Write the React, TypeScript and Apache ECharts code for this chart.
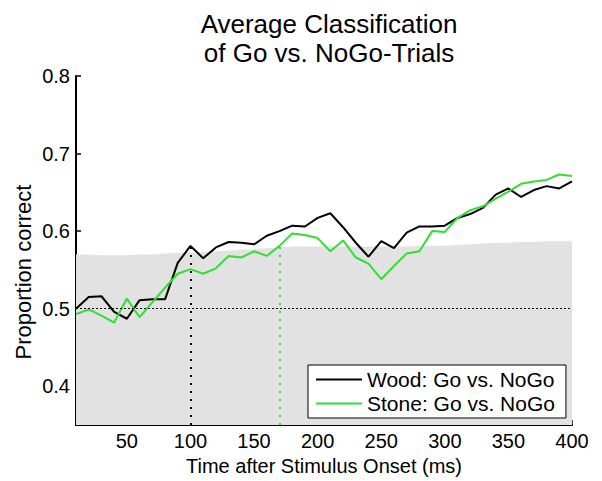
import React, { useEffect, useRef } from "react";
import * as echarts from "echarts";

// Time after stimulus onset (ms)
const times = [
  10, 20, 30, 40, 50, 60, 70, 80, 90, 100,
  110, 120, 130, 140, 150, 160, 170, 180, 190, 200,
  210, 220, 230, 240, 250, 260, 270, 280, 290, 300,
  310, 320, 330, 340, 350, 360, 370, 380, 390, 400,
];

// Proportion correct, Wood: Go vs. NoGo
const wood = [
  0.500, 0.515, 0.516, 0.496, 0.487, 0.511, 0.512, 0.512, 0.559, 0.581,
  0.565, 0.579, 0.586, 0.585, 0.583, 0.594, 0.600, 0.607, 0.606, 0.617,
  0.623, 0.605, 0.585, 0.567, 0.587, 0.578, 0.598, 0.606, 0.606, 0.607,
  0.617, 0.622, 0.630, 0.647, 0.655, 0.644, 0.653, 0.658, 0.655, 0.664,
];

// Proportion correct, Stone: Go vs. NoGo
const stone = [
  0.493, 0.499, 0.491, 0.482, 0.513, 0.489, 0.508, 0.527, 0.545, 0.551,
  0.545, 0.552, 0.568, 0.566, 0.574, 0.568, 0.581, 0.597, 0.595, 0.591,
  0.574, 0.588, 0.566, 0.558, 0.538, 0.555, 0.571, 0.574, 0.600, 0.599,
  0.617, 0.627, 0.632, 0.642, 0.651, 0.661, 0.664, 0.666, 0.673, 0.671,
];

// Upper bound of the chance-level band
const chanceBand = [
  0.570, 0.570, 0.569, 0.569, 0.569, 0.570, 0.570, 0.571, 0.572, 0.572,
  0.573, 0.574, 0.575, 0.576, 0.577, 0.578, 0.579, 0.580, 0.580, 0.580,
  0.580, 0.580, 0.580, 0.580, 0.580, 0.580, 0.580, 0.581, 0.581, 0.581,
  0.582, 0.583, 0.584, 0.585, 0.585, 0.586, 0.586, 0.587, 0.587, 0.587,
];

const xTicks = [50, 100, 150, 200, 250, 300, 350, 400];
const yTicks = [0.4, 0.5, 0.6, 0.7, 0.8];

const woodOnset = 100;
const stoneOnset = 170;

const FONT = "'Liberation Sans', Arial, Helvetica, sans-serif";
const GREEN = "#33de33";
const LEGEND_ICON = "path://M0,0 L46,0 L46,2 L0,2 Z";

export default function App() {
  const ref = useRef<HTMLDivElement>(null);

  useEffect(() => {
    if (!ref.current) return;
    const chart = echarts.init(ref.current, undefined, { renderer: "svg" });
    const yMin = 0.35;
    const pair = (ys: number[]) => times.map((t, i) => [t, ys[i]]);
    const woodAt = wood[times.indexOf(woodOnset)];
    const stoneAt = stone[times.indexOf(stoneOnset)];

    chart.setOption({
      animation: false,
      backgroundColor: "#ffffff",
      textStyle: { fontFamily: FONT },
      title: {
        text: "Average Classification\nof Go vs. NoGo-Trials",
        left: 324,
        textAlign: "center",
        top: 4,
        textStyle: {
          fontFamily: FONT,
          fontSize: 26,
          lineHeight: 29,
          fontWeight: "normal",
          color: "#000",
        },
      },
      grid: { left: 76, right: 30, top: 76, bottom: 53, containLabel: false },
      legend: {
        orient: "vertical",
        left: 308,
        top: 365,
        data: [
          { name: "Wood: Go vs. NoGo", icon: LEGEND_ICON },
          { name: "Stone: Go vs. NoGo", icon: LEGEND_ICON },
        ],
        backgroundColor: "#ffffff",
        borderColor: "#000",
        borderWidth: 1,
        borderRadius: 0,
        padding: [4, 11, 4, 8],
        itemGap: 3,
        itemWidth: 46,
        itemHeight: 2,
        textStyle: { fontFamily: FONT, fontSize: 21, color: "#000" },
      },
      xAxis: {
        type: "value",
        min: 10,
        max: 400,
        name: "Time after Stimulus Onset (ms)",
        nameLocation: "middle",
        nameGap: 31,
        nameTextStyle: { fontFamily: FONT, fontSize: 20, color: "#000" },
        splitLine: { show: false },
        axisLine: { lineStyle: { color: "#000", width: 2 } },
        axisTick: {
          inside: true,
          length: 5,
          customValues: xTicks,
          lineStyle: { color: "#000", width: 1.5 },
        },
        axisLabel: {
          customValues: xTicks,
          margin: 6,
          fontFamily: FONT,
          fontSize: 20,
          color: "#000",
        },
      },
      yAxis: {
        type: "value",
        min: yMin,
        max: 0.8,
        splitLine: { show: false },
        axisLine: { show: true, lineStyle: { color: "#000", width: 2 } },
        axisTick: {
          show: true,
          inside: true,
          length: 5,
          customValues: yTicks,
          lineStyle: { color: "#000", width: 1.5 },
        },
        axisLabel: {
          customValues: yTicks,
          margin: 6,
          fontFamily: FONT,
          fontSize: 20,
          color: "#000",
          formatter: (v: number) => v.toFixed(1),
        },
      },
      graphic: [
        {
          type: "text",
          x: 23,
          y: 272,
          rotation: Math.PI / 2,
          style: {
            text: "Proportion correct",
            fontFamily: FONT,
            fontSize: 22,
            fill: "#000",
            align: "center",
            verticalAlign: "middle",
          },
        },
      ],
      series: [
        {
          name: "chance",
          type: "line",
          data: pair(chanceBand),
          symbol: "none",
          z: 1,
          silent: true,
          lineStyle: { width: 0, color: "#e2e2e2" },
          itemStyle: { color: "#e2e2e2" },
          areaStyle: { color: "#e2e2e2", opacity: 1, origin: "start" },
          markLine: {
            silent: true,
            symbol: ["none", "none"],
            label: { show: false },
            lineStyle: { color: "#000", width: 1, type: [2, 2] },
            data: [{ yAxis: 0.5 }],
          },
        },
        {
          name: "Wood: Go vs. NoGo",
          type: "line",
          data: pair(wood),
          symbol: "none",
          z: 3,
          lineStyle: { color: "#000", width: 2 },
          itemStyle: { color: "#000" },
          markLine: {
            silent: true,
            symbol: ["none", "none"],
            label: { show: false },
            lineStyle: { color: "#000", width: 2, type: [2, 6] },
            data: [[{ coord: [woodOnset, yMin] }, { coord: [woodOnset, woodAt] }]],
          },
        },
        {
          name: "Stone: Go vs. NoGo",
          type: "line",
          data: pair(stone),
          symbol: "none",
          z: 4,
          lineStyle: { color: GREEN, width: 2 },
          itemStyle: { color: GREEN },
          markLine: {
            silent: true,
            symbol: ["none", "none"],
            label: { show: false },
            lineStyle: { color: GREEN, width: 2, type: [2, 6] },
            data: [[{ coord: [stoneOnset, yMin] }, { coord: [stoneOnset, stoneAt] }]],
          },
        },
      ],
    });
    return () => chart.dispose();
  }, []);

  return (
    <div
      ref={ref}
      style={{ position: "fixed", left: 0, top: 0, width: 602, height: 481 }}
    />
  );
}
